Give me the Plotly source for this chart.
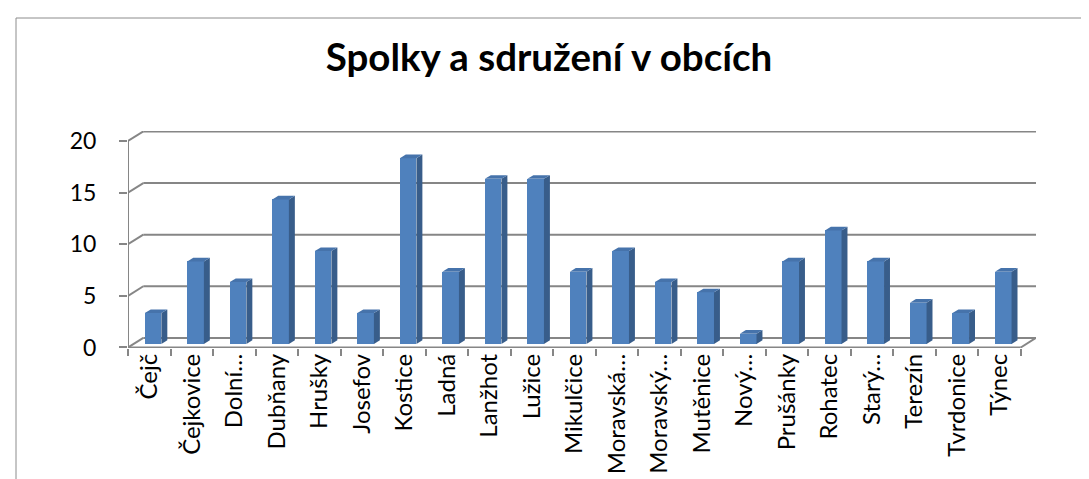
import plotly.graph_objects as go

# ---- data ----
categories = ["Čejč", "Čejkovice", "Dolní…", "Dubňany", "Hrušky", "Josefov", "Kostice",
              "Ladná", "Lanžhot", "Lužice", "Mikulčice", "Moravská…", "Moravský…",
              "Mutěnice", "Nový…", "Prušánky", "Rohatec", "Starý…", "Terezín",
              "Tvrdonice", "Týnec"]
values = [3, 8, 6, 14, 9, 3, 18, 7, 16, 16, 7, 9, 6, 5, 1, 8, 11, 8, 4, 3, 7]
y_ticks = [0, 5, 10, 15, 20]
title_text = "Spolky a sdružení v obcích"

# ---- style / geometry constants ----
FRONT = "#4F81BD"
SIDE = "#385D8A"
TOP = "#4673AB"
GRID = "#868686"
FONT = "Lato, 'Open Sans', sans-serif"

BACK_DX = 0.36      # depth offset of back wall (category units)
BACK_DY = 0.93      # depth offset of back wall (value units)
BAR_BASE = 0.34     # bars stand in mid depth
BAR_W = 0.39
BAR_SHIFT = 0.09
BAR_DX = 0.14
BAR_DY = 0.35

n = len(categories)
x_max = n - 0.5 + BACK_DX

fig = go.Figure()
fig.add_trace(go.Bar(
    x=categories, y=values, base=BAR_BASE,
    width=BAR_W, offset=BAR_SHIFT - BAR_W / 2,
    marker=dict(color=FRONT, line=dict(width=0)),
    hoverinfo="x+y", showlegend=False,
))

shapes = []
LW = 2
# back wall grid lines + left diagonals
for v in y_ticks:
    shapes.append(dict(type="line", xref="x", yref="y", layer="below",
                       x0=-0.5 + BACK_DX, x1=x_max, y0=v + BACK_DY, y1=v + BACK_DY,
                       line=dict(color=GRID, width=LW)))
    shapes.append(dict(type="line", xref="x", yref="y", layer="below",
                       x0=-0.5, x1=-0.5 + BACK_DX, y0=v, y1=v + BACK_DY,
                       line=dict(color=GRID, width=LW)))
# front vertical axis line
shapes.append(dict(type="line", xref="x", yref="y", layer="below",
                   x0=-0.5, x1=-0.5, y0=0, y1=max(y_ticks),
                   line=dict(color=GRID, width=LW)))
# floor front edge and right diagonal
shapes.append(dict(type="line", xref="x", yref="y", layer="below",
                   x0=-0.5, x1=n - 0.5, y0=0, y1=0,
                   line=dict(color=GRID, width=LW)))
shapes.append(dict(type="line", xref="x", yref="y", layer="below",
                   x0=n - 0.5, x1=x_max, y0=0, y1=BACK_DY,
                   line=dict(color=GRID, width=LW)))

# 3D faces of bars
for i, v in enumerate(values):
    xl = i + BAR_SHIFT - BAR_W / 2
    xr = i + BAR_SHIFT + BAR_W / 2
    top = BAR_BASE + v
    side = (f"M {xr},{BAR_BASE} L {xr + BAR_DX},{BAR_BASE + BAR_DY} "
            f"L {xr + BAR_DX},{top + BAR_DY} L {xr},{top} Z")
    topf = (f"M {xl},{top} L {xr},{top} L {xr + BAR_DX},{top + BAR_DY} "
            f"L {xl + BAR_DX},{top + BAR_DY} Z")
    shapes.append(dict(type="path", xref="x", yref="y", path=side,
                       fillcolor=SIDE, line=dict(width=0)))
    shapes.append(dict(type="path", xref="x", yref="y", path=topf,
                       fillcolor=TOP, line=dict(width=0)))

# outer chart border (paper coords relative to plot area)
L, R, T, B = 120, 61, 123, 139
pw, ph = 1089 - L - R, 479 - T - B
shapes.append(dict(type="rect", xref="paper", yref="paper",
                   x0=(8 - L) / pw, x1=(1080 - L) / pw,
                   y0=-2, y1=(479 - B - 10) / ph,
                   line=dict(color="#8C8C8C", width=1), fillcolor="rgba(0,0,0,0)",
                   layer="below"))

fig.update_layout(
    width=1089, height=479,
    margin=dict(l=L, r=R, t=T, b=B, autoexpand=False),
    paper_bgcolor="white", plot_bgcolor="white",
    title=dict(text=f"<b>{title_text}</b>", x=541 / 1089, xanchor="center",
               y=1 - 50 / 479, yanchor="middle",
               font=dict(family=FONT, size=38.5, color="black")),
    shapes=shapes,
    bargap=0,
    xaxis=dict(type="category", range=[-0.5, x_max], showgrid=False,
               zeroline=False, showline=False, tickson="boundaries",
               ticks="outside", ticklen=7, tickcolor=GRID, tickwidth=1.5,
               tickangle=-90, tickfont=dict(family=FONT, size=24, color="black"),
               fixedrange=True),
    yaxis=dict(range=[-0.05, 20.97], tickvals=y_ticks, showgrid=False,
               zeroline=False, showline=False, ticks="outside", ticklen=8,
               tickcolor=GRID, tickwidth=1.5, ticklabelstandoff=18,
               tickfont=dict(family=FONT, size=23, color="black"),
               fixedrange=True),
)

fig.write_html("out.html")
